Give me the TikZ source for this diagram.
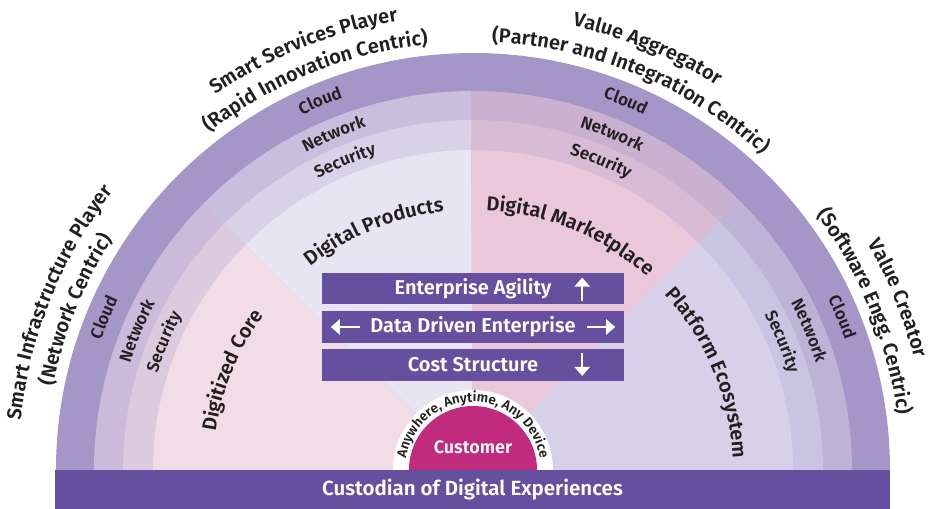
\documentclass[tikz,border=0pt]{standalone}
\usepackage{fontspec}
\setmainfont{Fira Sans}[UprightFont={* SemiBold}, BoldFont={* SemiBold}]
\usepackage{tikz}
\usetikzlibrary{arrows.meta,calc,decorations.text}

\definecolor{ink}{HTML}{231F20}
\definecolor{cloudring}{HTML}{A596C8}
\definecolor{barpurple}{HTML}{674FA0}
\definecolor{custmag}{HTML}{C02B7E}
\definecolor{netA}{HTML}{CBBAD9}
\definecolor{secA}{HTML}{DCCADF}
\definecolor{inA}{HTML}{F2DDE6}
\definecolor{netB}{HTML}{C7BFDD}
\definecolor{secB}{HTML}{D7D2E8}
\definecolor{inB}{HTML}{E8E5F2}
\definecolor{netC}{HTML}{CAB1D0}
\definecolor{secC}{HTML}{D8BBD5}
\definecolor{inC}{HTML}{EBC8D9}
\definecolor{netD}{HTML}{BDB3D7}
\definecolor{secD}{HTML}{C9C4E1}
\definecolor{inD}{HTML}{D6D1E8}

% text bent along a clockwise arc: [half span], radius, middle angle, size, text
\newcommand{\arclabel}[5][70]{%
  \path[decorate, decoration={text along path, text align=center,
      text color=ink, text={|\fontsize{#4}{#4}\selectfont|#5}}]
    ({#3+#1}:#2) arc[start angle={#3+#1}, end angle={#3-#1}, radius=#2];}

\begin{document}
\begin{tikzpicture}[x=1pt, y=1pt,
  panel/.style={fill=barpurple, text=white, inner sep=0pt,
    font=\fontsize{20}{20}\selectfont\bfseries,
    minimum width=302, minimum height=31.5},
  wharrow/.style={draw=white, line width=2.6pt,
    -{Triangle[length=9pt, width=15pt]}}
]
\useasboundingbox (-473,-39) rectangle (462,470);
% rings and sectors
\fill[cloudring] (417,0) arc[start angle=0, end angle=180, radius=417] -- cycle;
\foreach \ang/\cnet/\csec/\cin in {135/netA/secA/inA, 90/netB/secB/inB,
    45/netC/secC/inC, 0/netD/secD/inD}{
  \fill[\cnet] (0,0) -- (\ang:379) arc[start angle=\ang, delta angle=45.3, radius=379] -- cycle;
  \fill[\csec] (0,0) -- (\ang:350) arc[start angle=\ang, delta angle=45.3, radius=350] -- cycle;
  \fill[\cin] (0,0) -- (\ang:320) arc[start angle=\ang, delta angle=45.3, radius=320] -- cycle;
}
% customer
\fill[white] (80,0) arc[start angle=0, end angle=180, radius=80] -- cycle;
\fill[custmag] (64,0) arc[start angle=0, end angle=180, radius=64] -- cycle;
\node[text=white, font=\fontsize{18}{18}\selectfont\bfseries] (customer) at (0,23) {Customer};
\arclabel[100]{68}{90}{13.5}{Anywhere, Anytime, Any Device}
% boxes
\node[panel, minimum width=835, minimum height=39,
      font=\fontsize{20.5}{20.5}\selectfont\bfseries] (custodian) at (-0.5,-19.5)
  {Custodian of Digital Experiences};
\node[panel] (agility) at (0,181.5) {Enterprise Agility};
\node[panel] (datadriven) at (0,143) {Data Driven Enterprise};
\node[panel] (cost) at (0,105) {Cost Structure};
\draw[wharrow] ($(agility.south east)+(-42,3)$) -- ($(agility.north east)+(-42,-5)$);
\draw[wharrow] ($(datadriven.west)+(38,0)$) -- ($(datadriven.west)+(9,0)$);
\draw[wharrow] ($(datadriven.east)+(-37,0)$) -- ($(datadriven.east)+(-9,0)$);
\draw[wharrow] ($(cost.north east)+(-42,-4)$) -- ($(cost.south east)+(-42,5)$);
% ring labels
\foreach \mid in {157.5,112.5,67.5,22.5}{
  \arclabel{394}{\mid}{17}{Cloud}
  \arclabel{359}{\mid}{17}{Network}
  \arclabel{330}{\mid}{17}{Security}
}
\arclabel{260}{157.5}{20}{Digitized Core}
\arclabel{260}{112.5}{20}{Digital Products}
\arclabel{260}{67.5}{20}{Digital Marketplace}
\arclabel{260}{22.5}{20}{Platform Ecosystem}
% outer labels
\arclabel{455}{158}{20}{Smart Infrastructure Player}
\arclabel{428}{158}{20}{(Network Centric)}
\arclabel{455}{112}{20}{Smart Services Player}
\arclabel{428}{112}{20}{(Rapid Innovation Centric)}
\arclabel{455}{67.5}{20}{Value Aggregator}
\arclabel{428}{67.5}{20}{(Partner and Integration Centric)}
\arclabel{455}{22}{20}{Value Creator}
\arclabel{428}{22}{20}{(Software Engg. Centric)}
\end{tikzpicture}
\end{document}
